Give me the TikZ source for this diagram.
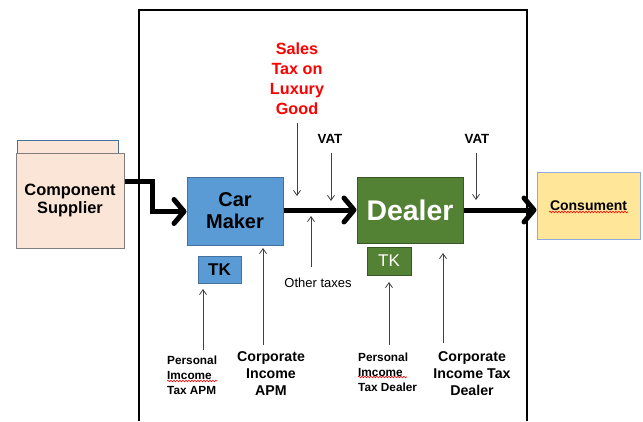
\documentclass[tikz,border=0pt]{standalone}
\usepackage{fontspec}
\setmainfont{Liberation Sans}
\usetikzlibrary{arrows.meta,decorations.pathmorphing}
\definecolor{peach}{HTML}{FBE5D6}
\definecolor{carblue}{HTML}{5B9BD5}
\definecolor{carborder}{HTML}{41719C}
\definecolor{dealergreen}{HTML}{548235}
\definecolor{dealerborder}{HTML}{385723}
\definecolor{consyellow}{HTML}{FFE699}
\definecolor{consborder}{HTML}{8FAADC}
\definecolor{thingray}{HTML}{404040}
\definecolor{boxgray}{HTML}{7F7F7F}
\tikzset{
  boxnode/.style={draw, line width=1pt, inner sep=0pt, align=center},
  flowarrow/.style={line width=5pt, -{Straight Barb[length=10pt,width=24pt,line width=5pt,round]}},
  taxarrow/.style={draw=thingray, line width=0.8pt, -{Straight Barb[length=5pt,width=7pt,line width=0.8pt]}},
  spell/.style={draw=red, line width=0.6pt, decorate, decoration={snake, amplitude=0.8pt, segment length=3pt}}
}
\begin{document}
\begin{tikzpicture}[x=1pt,y=-1pt]
\useasboundingbox (0,0) rectangle (643,421);
% frame
\draw[line width=2.5pt] (139,421) -- (139,10) -- (527,10) -- (527,421);
% component supplier
\node[draw=carborder, fill=peach, line width=0.8pt, minimum width=101pt, minimum height=60pt, inner sep=0pt] (supback) at (67.5,170) {};
\node[boxnode, draw=boxgray, fill=peach, minimum width=108pt, minimum height=95pt, font=\bfseries\fontsize{16.4}{18}\selectfont] (sup) at (70,200.5) {Component\\Supplier};
% car maker
\node[boxnode, draw=carborder, fill=carblue, minimum width=96pt, minimum height=68pt, font=\bfseries\fontsize{20}{22}\selectfont] (car) at (235,211) {Car\\Maker};
\node[boxnode, draw=carborder, fill=carblue, minimum width=43pt, minimum height=27pt, font=\bfseries\fontsize{17}{20}\selectfont] (cartk) at (219.5,269.5) {TK};
% dealer
\node[boxnode, draw=dealerborder, fill=dealergreen, text=white, minimum width=106pt, minimum height=66pt, font=\bfseries\fontsize{28.4}{30}\selectfont] (dealer) at (410,210) {Dealer};
\node[boxnode, draw=dealerborder, fill=dealergreen, text=white, minimum width=44pt, minimum height=28pt, font=\fontsize{17}{20}\selectfont] (dealertk) at (389,261) {TK};
% consument
\node[boxnode, draw=consborder, fill=consyellow, minimum width=103pt, minimum height=67pt, font=\bfseries\fontsize{14}{16}\selectfont] (cons) at (588.5,205.5) {Consument};
\draw[spell] (549,212) -- (628,212);
% flow arrows
\draw[flowarrow] ([yshift=19.5pt]sup.east) -- ++(28,0) |- ([yshift=-0.5pt]car.west);
\draw[flowarrow] ([yshift=1pt]car.east) -- (dealer.west);
\draw[flowarrow] (dealer.east) -- (dealer.east -| cons.west);
% tax labels
\node[text=red, align=center, font=\bfseries\fontsize{16.2}{20}\selectfont, inner sep=0pt] (sales) at (297,79) {Sales\\Tax on\\Luxury\\Good};
\node[font=\bfseries\fontsize{13.3}{15}\selectfont, inner sep=0pt] (vat1) at (330,139) {VAT};
\node[font=\bfseries\fontsize{13.3}{15}\selectfont, inner sep=0pt] (vat2) at (477,139) {VAT};
\node[font=\fontsize{13}{15}\selectfont, inner sep=0pt] (other) at (318,283) {Other taxes};
\node[align=left, anchor=north west, font=\bfseries\fontsize{11.8}{15}\selectfont, inner sep=0pt] (pitapm) at (167,355.7) {Personal\\Imcome\\Tax APM};
\node[align=center, font=\bfseries\fontsize{14.2}{17}\selectfont, inner sep=0pt] (citapm) at (271,374) {Corporate\\Income\\APM};
\node[align=left, anchor=north west, font=\bfseries\fontsize{11.8}{15}\selectfont, inner sep=0pt] (pitdealer) at (358,352.7) {Personal\\Imcome\\Tax Dealer};
\node[align=center, font=\bfseries\fontsize{14.2}{17}\selectfont, inner sep=0pt] (citdealer) at (472,374) {Corporate\\Income Tax\\Dealer};
\draw[spell] (167,381) -- (217,381);
\draw[spell] (358,377) -- (407,377);
% tax arrow end points
\coordinate (salesS) at (297,123); \coordinate (salesE) at (297,196);
\coordinate (vat1S) at (331,153); \coordinate (vat1E) at (331,201);
\coordinate (otherS) at (311,267); \coordinate (otherE) at (311,216);
\coordinate (vat2S) at (476,153); \coordinate (vat2E) at (476,200);
\coordinate (pitapmS) at (203,350); \coordinate (pitapmE) at (203,289);
\coordinate (citapmS) at (263,345); \coordinate (citapmE) at (263,248);
\coordinate (pitdealerS) at (389,345); \coordinate (pitdealerE) at (389,282);
\coordinate (citdealerS) at (443,343); \coordinate (citdealerE) at (443,253);
\draw[taxarrow] (salesS) -- (salesE);
\draw[taxarrow] (vat1S) -- (vat1E);
\draw[taxarrow] (otherS) -- (otherE);
\draw[taxarrow] (vat2S) -- (vat2E);
\draw[taxarrow] (pitapmS) -- (pitapmE);
\draw[taxarrow] (citapmS) -- (citapmE);
\draw[taxarrow] (pitdealerS) -- (pitdealerE);
\draw[taxarrow] (citdealerS) -- (citdealerE);
\end{tikzpicture}
\end{document}
